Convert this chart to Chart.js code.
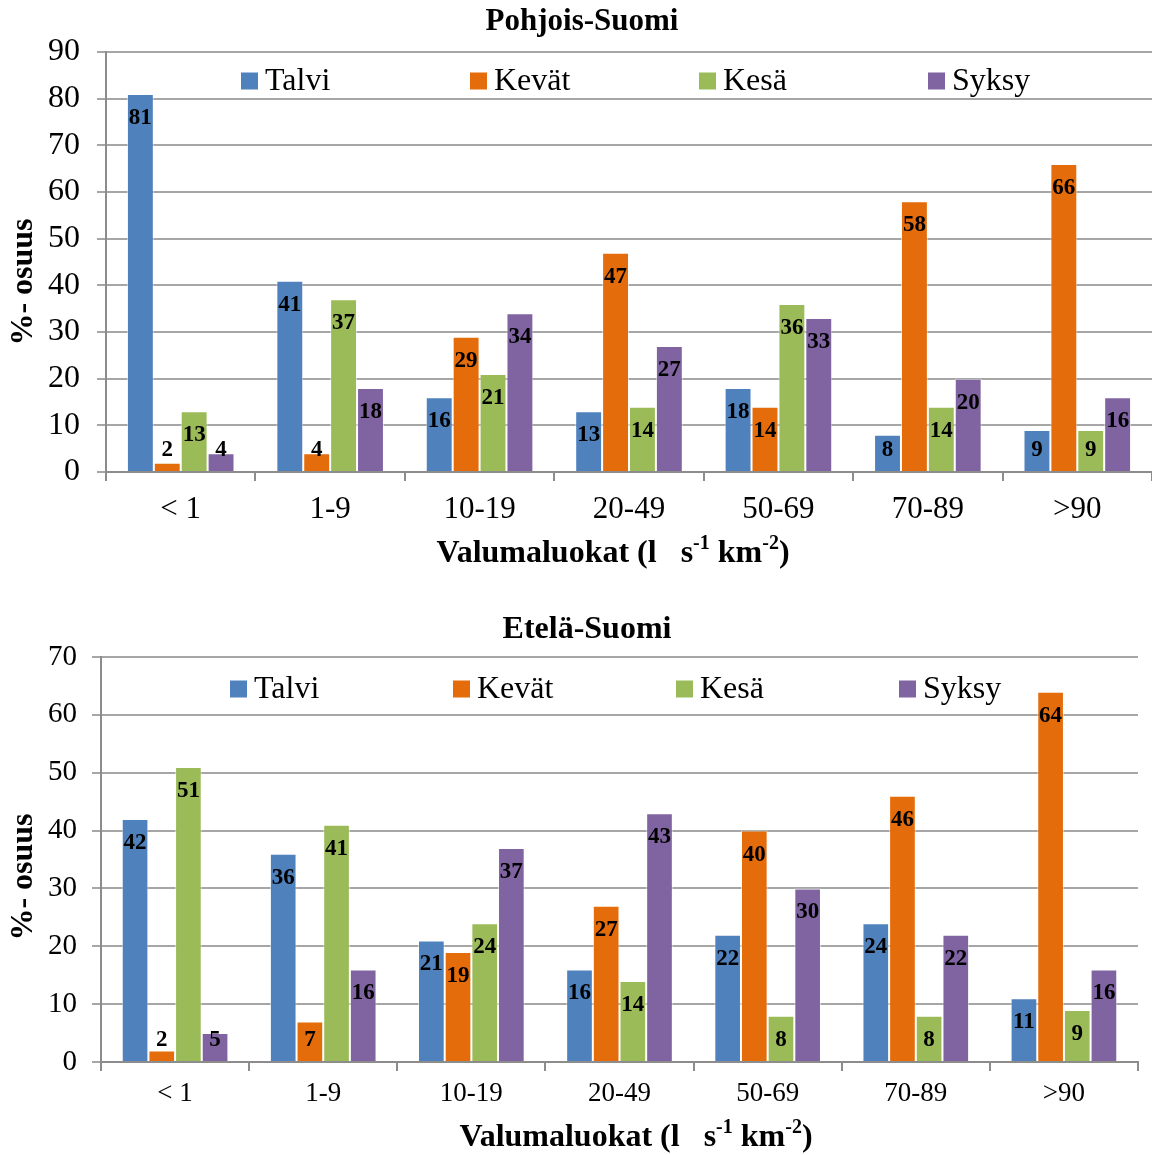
<!DOCTYPE html>
<html>
<head>
<meta charset="utf-8">
<script src="https://cdn.jsdelivr.net/npm/chart.js@4.4.0/dist/chart.umd.min.js"></script>
<style>
  body { margin: 0; background: #fff; }
  .box { position: absolute; left: 0; width: 1152px; }
  canvas { display: block; }
</style>
</head>
<body>
<div class="box" style="top:0;height:590px"><canvas id="north" width="1152" height="590"></canvas></div>
<div class="box" style="top:590px;height:565px"><canvas id="south" width="1152" height="565"></canvas></div>
<script>
// Runoff classes (l s-1 km-2) and seasonal shares (%)
const categories = ['< 1', '1-9', '10-19', '20-49', '50-69', '70-89', '>90'];
const seasons = ['Talvi', 'Kevät', 'Kesä', 'Syksy'];

// Pohjois-Suomi
const northTalvi = [81, 41, 16, 13, 18, 8, 9];
const northKevat = [2, 4, 29, 47, 14, 58, 66];
const northKesa  = [13, 37, 21, 14, 36, 14, 9];
const northSyksy = [4, 18, 34, 27, 33, 20, 16];

// Etelä-Suomi
const southTalvi = [42, 36, 21, 16, 22, 24, 11];
const southKevat = [2, 7, 19, 27, 40, 46, 64];
const southKesa  = [51, 41, 24, 14, 8, 8, 9];
const southSyksy = [5, 16, 37, 43, 30, 22, 16];

const northTicks = [0, 10, 20, 30, 40, 50, 60, 70, 80, 90];
const southTicks = [0, 10, 20, 30, 40, 50, 60, 70];

const seasonColors = ['#4F81BD', '#E46C0A', '#9BBB59', '#8064A2'];
const SERIF = "'Liberation Serif', 'Times New Roman', serif";

// Value labels near the top of each bar, kept above the baseline for short bars
const barLabels = {
  id: 'barLabels',
  afterDatasetsDraw(chart) {
    const ctx = chart.ctx;
    ctx.save();
    ctx.font = 'bold 23px ' + SERIF;
    ctx.fillStyle = '#000';
    ctx.textAlign = 'center';
    ctx.textBaseline = 'middle';
    chart.data.datasets.forEach((ds, di) => {
      chart.getDatasetMeta(di).data.forEach((bar, i) => {
        const cy = Math.min(bar.y + 24, bar.base - 21);
        ctx.fillText(String(ds.data[i]), bar.x, cy);
      });
    });
    ctx.restore();
  }
};

// Title, axis titles and an in-plot legend row
const decor = {
  id: 'decor',
  afterDraw(chart, args, o) {
    const ctx = chart.ctx;
    ctx.save();
    ctx.fillStyle = '#000';
    ctx.textBaseline = 'middle';

    // chart title
    ctx.font = 'bold ' + o.titleSize + 'px ' + SERIF;
    ctx.textAlign = 'center';
    ctx.fillText(o.title, o.titleX, o.titleY);

    // y axis title
    ctx.save();
    ctx.translate(o.yTitleX, o.yTitleY);
    ctx.rotate(-Math.PI / 2);
    ctx.font = 'bold 32px ' + SERIF;
    ctx.fillText('%- osuus', 0, 0);
    ctx.restore();

    // x axis title with superscripts
    const parts = [
      { t: 'Valumaluokat (l   s', sup: false },
      { t: '-1', sup: true },
      { t: ' km', sup: false },
      { t: '-2', sup: true },
      { t: ')', sup: false }
    ];
    const mainFont = 'bold 32px ' + SERIF;
    const supFont = 'bold 20px ' + SERIF;
    let total = 0;
    parts.forEach(p => { ctx.font = p.sup ? supFont : mainFont; p.w = ctx.measureText(p.t).width; total += p.w; });
    let x = o.xTitleX - total / 2;
    ctx.textAlign = 'left';
    parts.forEach(p => {
      ctx.font = p.sup ? supFont : mainFont;
      ctx.fillText(p.t, x, p.sup ? o.xTitleY - 10 : o.xTitleY);
      x += p.w;
    });

    // legend
    ctx.font = o.legendSize + 'px ' + SERIF;
    chart.data.datasets.forEach((ds, i) => {
      const lx = o.legendX + i * o.legendStep;
      ctx.fillStyle = ds.backgroundColor;
      ctx.fillRect(lx, o.legendY - 8.5, 17, 17);
      ctx.fillStyle = '#000';
      ctx.fillText(ds.label, lx + 24, o.legendY + 1);
    });
    ctx.restore();
  }
};

function buildChart(id, series, ticks, layout) {
  const datasets = series.map((data, i) => ({
    label: seasons[i],
    data: data,
    backgroundColor: seasonColors[i],
    borderColor: 'rgba(255,255,255,0.55)',
    borderWidth: 1,
    categoryPercentage: 0.72,
    barPercentage: 1.0
  }));
  return new Chart(document.getElementById(id), {
    type: 'bar',
    data: { labels: categories, datasets: datasets },
    plugins: [barLabels, decor],
    options: {
      responsive: false,
      animation: false,
      layout: { padding: { top: layout.top, right: layout.right, left: 0, bottom: 0 } },
      plugins: {
        legend: { display: false },
        tooltip: { enabled: false },
        decor: layout.decor
      },
      scales: {
        x: {
          grid: { drawOnChartArea: false, drawTicks: true, tickLength: 9, color: '#8c8c8c', lineWidth: 2, offset: true },
          border: { color: '#8c8c8c', width: 2 },
          ticks: { color: '#000', font: { family: SERIF, size: layout.xFont }, padding: layout.xPad, maxRotation: 0, autoSkip: false },
          afterFit(s) { s.height = layout.xHeight; }
        },
        y: {
          min: ticks[0],
          max: ticks[ticks.length - 1],
          afterBuildTicks(s) { s.ticks = ticks.map(v => ({ value: v })); },
          grid: { color: '#a6a6a6', lineWidth: 2, tickLength: 9, drawTicks: true },
          border: { color: '#8c8c8c', width: 2 },
          ticks: { color: '#000', font: { family: SERIF, size: layout.yFont }, padding: layout.yPad },
          afterFit(s) { s.width = layout.yWidth; }
        }
      }
    }
  });
}

buildChart('north', [northTalvi, northKevat, northKesa, northSyksy], northTicks, {
  top: 52, right: 0, yWidth: 106, xHeight: 118, xFont: 31, yFont: 32, xPad: 10, yPad: 17,
  decor: { title: 'Pohjois-Suomi', titleSize: 31, titleX: 582, titleY: 22, yTitleX: 24, yTitleY: 282,
           xTitleX: 613, xTitleY: 554, legendX: 241, legendStep: 229, legendY: 81, legendSize: 32 }
});

buildChart('south', [southTalvi, southKevat, southKesa, southSyksy], southTicks, {
  top: 67, right: 14, yWidth: 101, xHeight: 93, xFont: 27, yFont: 29, xPad: 7, yPad: 15,
  decor: { title: 'Etelä-Suomi', titleSize: 32, titleX: 587, titleY: 40, yTitleX: 24, yTitleY: 287,
           xTitleX: 636, xTitleY: 548, legendX: 230, legendStep: 223, legendY: 99, legendSize: 32 }
});
</script>
</body>
</html>
